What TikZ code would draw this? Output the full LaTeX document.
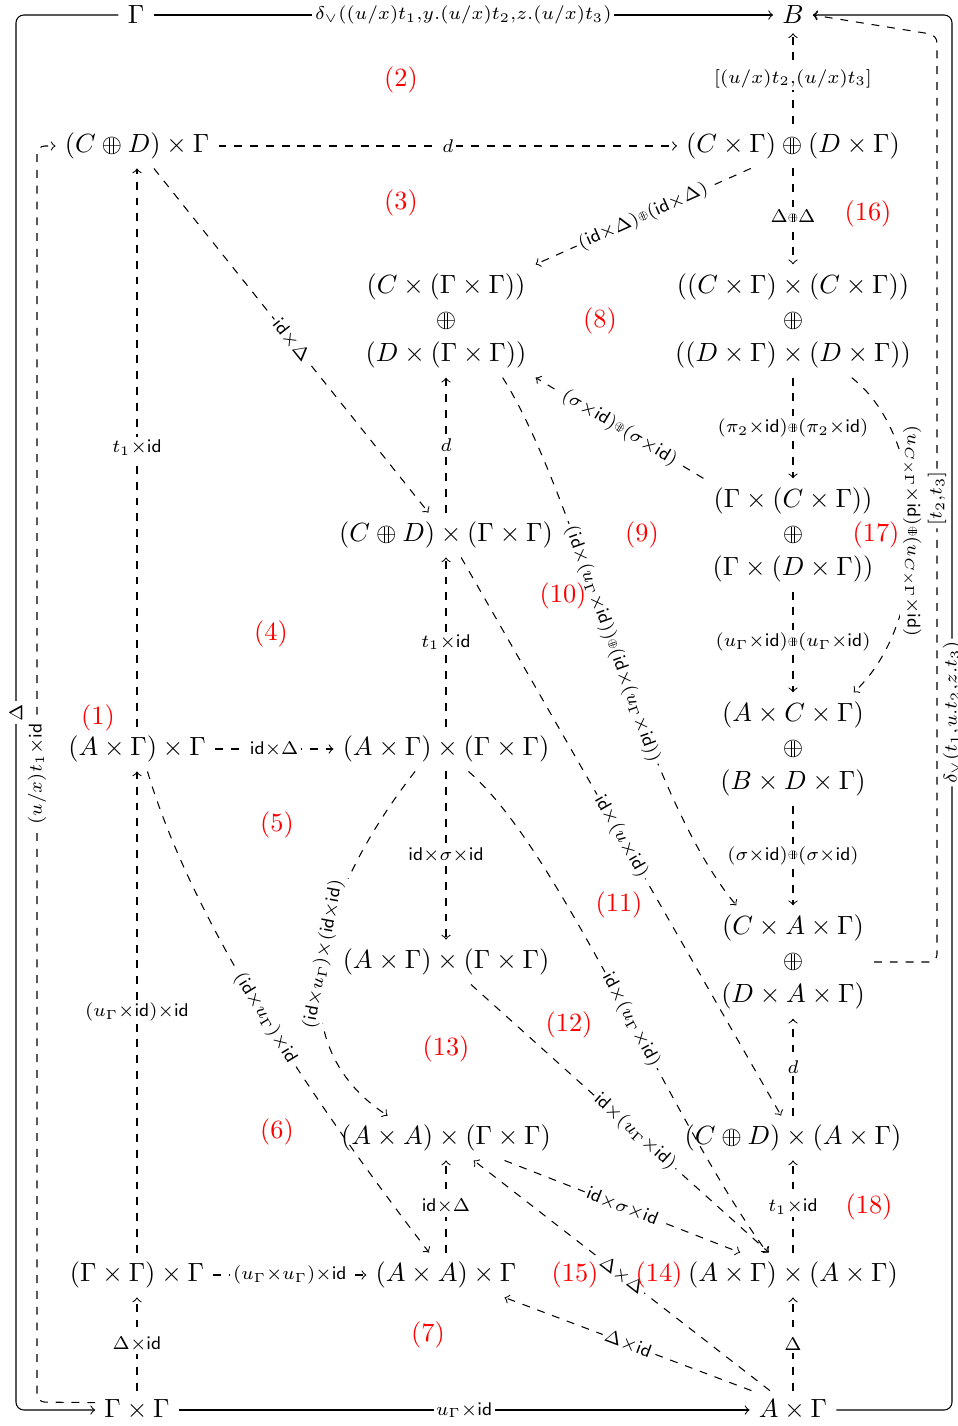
\documentclass[tikz,border=0pt]{standalone}
\usepackage{amsmath,amssymb}
\usepackage{graphicx}

\newcommand{\dplusbox}{\ooalign{$\ominus$\cr\hidewidth\rule[-0.06em]{0.04em}{0.62em}\kern0.1em\rule[-0.06em]{0.04em}{0.62em}\hidewidth\cr}}
\newcommand{\dplus}{\mathbin{\dplusbox}}
\newcommand{\sdplus}{\mathbin{\raisebox{0.06em}{\scalebox{0.5}{\dplusbox}}}}

\tikzset{every picture/.style={line width=0.4pt}}

\begin{document}
\begin{tikzpicture}[
                x=0.38pt,
                y=-0.38pt,
                lbl/.style={fill=white, inner sep=1pt, execute at begin node=$\scriptstyle, execute at end node=$},
                num/.style={text=red},
                dmap/.style={->, dashed},
                smap/.style={->},
                stack/.style={align=center}
            ]
                \useasboundingbox (0,0) rectangle (957,1426);

                % objects
                \node (gam) at (136,15) {$\Gamma$};
                \node (bb) at (793,15) {$B$};
                \node (cdg) at (137,146) {$(C\dplus D)\times\Gamma$};
                \node (cgdg) at (793,146) {$(C\times\Gamma)\dplus(D\times\Gamma)$};
                \node[stack] (cgg) at (446,321) {$(C\times(\Gamma\times\Gamma))$\\[1pt]$\dplus$\\[1pt]$(D\times(\Gamma\times\Gamma))$};
                \node[stack] (ccgg) at (793,321) {$((C\times\Gamma)\times(C\times\Gamma))$\\[1pt]$\dplus$\\[1pt]$((D\times\Gamma)\times(D\times\Gamma))$};
                \node (cdgg) at (446,535) {$(C\dplus D)\times(\Gamma\times\Gamma)$};
                \node[stack] (gcg) at (793,535) {$(\Gamma\times(C\times\Gamma))$\\[1pt]$\dplus$\\[1pt]$(\Gamma\times(D\times\Gamma))$};
                \node (agg) at (137,749) {$(A\times\Gamma)\times\Gamma$};
                \node (aggg) at (446,749) {$(A\times\Gamma)\times(\Gamma\times\Gamma)$};
                \node[stack] (acg) at (793,749) {$(A\times C\times\Gamma)$\\[1pt]$\dplus$\\[1pt]$(B\times D\times\Gamma)$};
                \node (aggb) at (446,962) {$(A\times\Gamma)\times(\Gamma\times\Gamma)$};
                \node[stack] (cag) at (793,962) {$(C\times A\times\Gamma)$\\[1pt]$\dplus$\\[1pt]$(D\times A\times\Gamma)$};
                \node (aagg) at (446,1138) {$(A\times A)\times(\Gamma\times\Gamma)$};
                \node (cdag) at (793,1138) {$(C\dplus D)\times(A\times\Gamma)$};
                \node (ggg) at (137,1275) {$(\Gamma\times\Gamma)\times\Gamma$};
                \node (aag) at (446,1275) {$(A\times A)\times\Gamma$};
                \node (agag) at (793,1275) {$(A\times\Gamma)\times(A\times\Gamma)$};
                \node (gg) at (137,1410) {$\Gamma\times\Gamma$};
                \node (ag) at (793,1410) {$A\times\Gamma$};

                % outer frame
                \draw[smap] (gam) -- node[lbl]{\delta_\vee((u/x)t_1,y.(u/x)t_2,z.(u/x)t_3)} (bb);
                \draw[smap, rounded corners=3pt] (gam.west) -- (16,15) -- node[lbl, rotate=90]{\Delta} (16,1410) -- (gg.west);
                \draw[dmap, rounded corners=3pt] (gg.170) -- (37,1402) -- node[lbl, rotate=90]{(u/x)t_1\times\mathsf{id}} (37,146) -- (cdg.west);
                \draw[smap] (gg) -- node[lbl]{u_\Gamma\times\mathsf{id}} (ag);
                \draw[smap, rounded corners=3pt] (ag.east) -- (952,1410) -- node[lbl, rotate=90]{\delta_\vee(t_1,u.t_2,z.t_3)} (952,15) -- (bb.east);
                \draw[dmap, rounded corners=3pt] (cag.east) -- (937,962) -- node[lbl, rotate=90]{[t_2,t_3]} (937,35) -- (bb.east);

                % left column
                \draw[dmap] (agg) -- node[lbl]{t_1\times\mathsf{id}} (cdg);
                \draw[dmap] (ggg) -- node[lbl]{(u_\Gamma\times\mathsf{id})\times\mathsf{id}} (agg);
                \draw[dmap] (gg) -- node[lbl]{\Delta\times\mathsf{id}} (ggg);

                % middle column
                \draw[dmap] (cdgg) -- node[lbl]{d} (cgg);
                \draw[dmap] (aggg) -- node[lbl]{t_1\times\mathsf{id}} (cdgg);
                \draw[dmap] (aggg) -- node[lbl]{\mathsf{id}\times\sigma\times\mathsf{id}} (aggb);
                \draw[dmap] (aag) -- node[lbl]{\mathsf{id}\times\Delta} (aagg);

                % right column
                \draw[dmap] (cgdg) -- node[lbl]{[(u/x)t_2,(u/x)t_3]} (bb);
                \draw[dmap] (cgdg) -- node[lbl]{\Delta\sdplus\Delta} (ccgg);
                \draw[dmap] (ccgg) -- node[lbl]{(\pi_2\times\mathsf{id})\sdplus(\pi_2\times\mathsf{id})} (gcg);
                \draw[dmap] (gcg) -- node[lbl]{(u_\Gamma\times\mathsf{id})\sdplus(u_\Gamma\times\mathsf{id})} (acg);
                \draw[dmap] (acg) -- node[lbl]{(\sigma\times\mathsf{id})\sdplus(\sigma\times\mathsf{id})} (cag);
                \draw[dmap] (cdag) -- node[lbl]{d} (cag);
                \draw[dmap] (agag) -- node[lbl]{t_1\times\mathsf{id}} (cdag);
                \draw[dmap] (ag) -- node[lbl]{\Delta} (agag);

                % rows
                \draw[dmap] (cdg) -- node[lbl]{d} (cgdg);
                \draw[dmap] (agg) -- node[lbl]{\mathsf{id}\times\Delta} (aggg);
                \draw[dmap] (ggg) -- node[lbl]{(u_\Gamma\times u_\Gamma)\times\mathsf{id}} (aag);

                % diagonals
                \draw[dmap] (cdg.-53) -- node[lbl, sloped]{\mathsf{id}\times\Delta} (cdgg.128);
                \draw[dmap] (cgdg.208) -- node[lbl, sloped]{(\mathsf{id}\times\Delta)\sdplus(\mathsf{id}\times\Delta)} (cgg.north east);
                \draw[dmap] (gcg.north west) -- node[lbl, sloped]{(\sigma\times\mathsf{id})\sdplus(\sigma\times\mathsf{id})} (cgg.south east);
                \draw[dmap] (cgg.-45) .. controls (580,500) and (640,790) .. node[lbl, sloped]{(\mathsf{id}\times(u_\Gamma\times\mathsf{id}))\sdplus(\mathsf{id}\times(u_\Gamma\times\mathsf{id}))} (cag.135);
                \draw[dmap] (ccgg.-44) .. controls (932,440) and (932,620) .. node[lbl, rotate=-90]{(u_{C\times\Gamma}\times\mathsf{id})\sdplus(u_{C\times\Gamma}\times\mathsf{id})} (acg.43);
                \draw[dmap] (cdgg.-56) -- node[lbl, sloped]{\mathsf{id}\times(u\times\mathsf{id})} (cdag.118);
                \draw[dmap] (aggg.-144) .. controls (330,880) and (265,1035) .. node[lbl, sloped]{(\mathsf{id}\times u_\Gamma)\times(\mathsf{id}\times\mathsf{id})} (aagg.159);
                \draw[dmap] (aggg.-45) .. controls (560,850) and (670,1120) .. node[lbl, sloped, pos=0.55]{\mathsf{id}\times(u_\Gamma\times\mathsf{id})} (agag.139);
                \draw[dmap] (aggb.-42) -- node[lbl, sloped, pos=0.55]{\mathsf{id}\times(u_\Gamma\times\mathsf{id})} (agag.137);
                \draw[dmap] (agg.-65) .. controls (195,930) and (320,1110) .. node[lbl, sloped]{(\mathsf{id}\times u_\Gamma)\times\mathsf{id}} (aag.127);
                \draw[dmap] (aagg.-21) -- node[lbl, sloped]{\mathsf{id}\times\sigma\times\mathsf{id}} (agag.157);
                \draw[dmap] (ag.140) -- node[lbl, sloped]{\Delta\times\Delta} (aagg.-39);
                \draw[dmap] (ag.155) -- node[lbl, sloped]{\Delta\times\mathsf{id}} (aag.-21);

                % cell numbers
                \node[num] (n1) at (98,718) {(1)};
                \node[num] (n2) at (401,80) {(2)};
                \node[num] (n3) at (401,203) {(3)};
                \node[num] (n4) at (271,634) {(4)};
                \node[num] (n5) at (277,825) {(5)};
                \node[num] (n6) at (277,1132) {(6)};
                \node[num] (n7) at (428,1335) {(7)};
                \node[num] (n8) at (600,321) {(8)};
                \node[num] (n9) at (642,535) {(9)};
                \node[num] (n10) at (563,596) {(10)};
                \node[num] (n11) at (619,905) {(11)};
                \node[num] (n12) at (569,1025) {(12)};
                \node[num] (n13) at (446,1049) {(13)};
                \node[num] (n14) at (659,1275) {(14)};
                \node[num] (n15) at (575,1275) {(15)};
                \node[num] (n16) at (868,214) {(16)};
                \node[num] (n17) at (876,535) {(17)};
                \node[num] (n18) at (869,1207) {(18)};
            \end{tikzpicture}
\end{document}
